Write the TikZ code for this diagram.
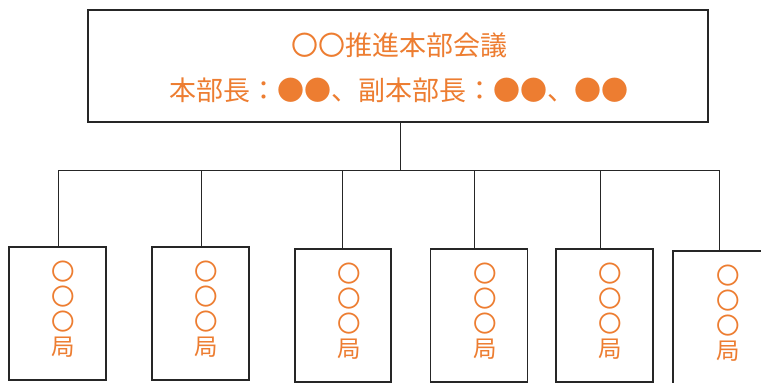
\documentclass[tikz,border=0pt]{standalone}
\usepackage{fontspec}
\setmainfont{Noto Sans CJK JP}
\newfontfamily\jpfont{Noto Sans CJK JP}
\definecolor{accent}{HTML}{ED7D31}
\definecolor{linegray}{HTML}{262626}
\begin{document}
\begin{tikzpicture}[x=1pt,y=-1pt,
  box/.style={draw=linegray,line width=1.2pt,fill=white,rectangle,inner sep=0pt},
  txt/.style={text=accent,font=\jpfont\fontsize{27}{45}\selectfont,align=center,inner sep=0pt},
  vtxt/.style={text=accent,font=\jpfont\fontsize{23.5}{25}\selectfont,align=center,inner sep=0pt},
  conn/.style={draw=linegray,line width=1pt}]
\clip (0,0) rectangle (761,383);
\fill[white] (0,0) rectangle (761,383);
% top box
\node[box,minimum width=620pt,minimum height=112pt] (top) at (398,66) {};
\node[txt] (toptext) at (399,67.5) {〇〇推進本部会議\\本部長：●●、副本部長：●●、●●};
% lower boxes
\node[box,minimum width=97pt,minimum height=133pt] (b1) at (57.5,313.5) {};
\node[box,minimum width=97pt,minimum height=133pt] (b2) at (200.5,313.5) {};
\node[box,minimum width=96pt,minimum height=133pt] (b3) at (343,315.5) {};
\node[box,minimum width=97pt,minimum height=133pt] (b4) at (479,315.5) {};
\node[box,minimum width=97pt,minimum height=133pt] (b5) at (604.5,315.5) {};
\node[box,minimum width=97pt,minimum height=141pt] (b6) at (721.5,321.5) {};
\node[vtxt] (t1) at (63.5,309) {〇\\〇\\〇\\局};
\node[vtxt] (t2) at (206,309) {〇\\〇\\〇\\局};
\node[vtxt] (t3) at (349,311) {〇\\〇\\〇\\局};
\node[vtxt] (t4) at (485,311) {〇\\〇\\〇\\局};
\node[vtxt] (t5) at (610.5,311) {〇\\〇\\〇\\局};
\node[vtxt] (t6) at (728,313) {〇\\〇\\〇\\局};
% connectors
\coordinate (bus) at (400,170.5);
\coordinate (d1) at (58.3,170.5);
\coordinate (d2) at (201.7,170.5);
\coordinate (d3) at (342.3,170.5);
\coordinate (d4) at (474.7,170.5);
\coordinate (d5) at (600.7,170.5);
\coordinate (d6) at (719.7,170.5);
\draw[conn] (top.south -| bus) -- (bus);
\draw[conn] (d1) -- (d6);
\draw[conn] (d1) -- (d1 |- b1.north);
\draw[conn] (d2) -- (d2 |- b2.north);
\draw[conn] (d3) -- (d3 |- b3.north);
\draw[conn] (d4) -- (d4 |- b4.north);
\draw[conn] (d5) -- (d5 |- b5.north);
\draw[conn] (d6) -- (d6 |- b6.north);
\end{tikzpicture}
\end{document}
